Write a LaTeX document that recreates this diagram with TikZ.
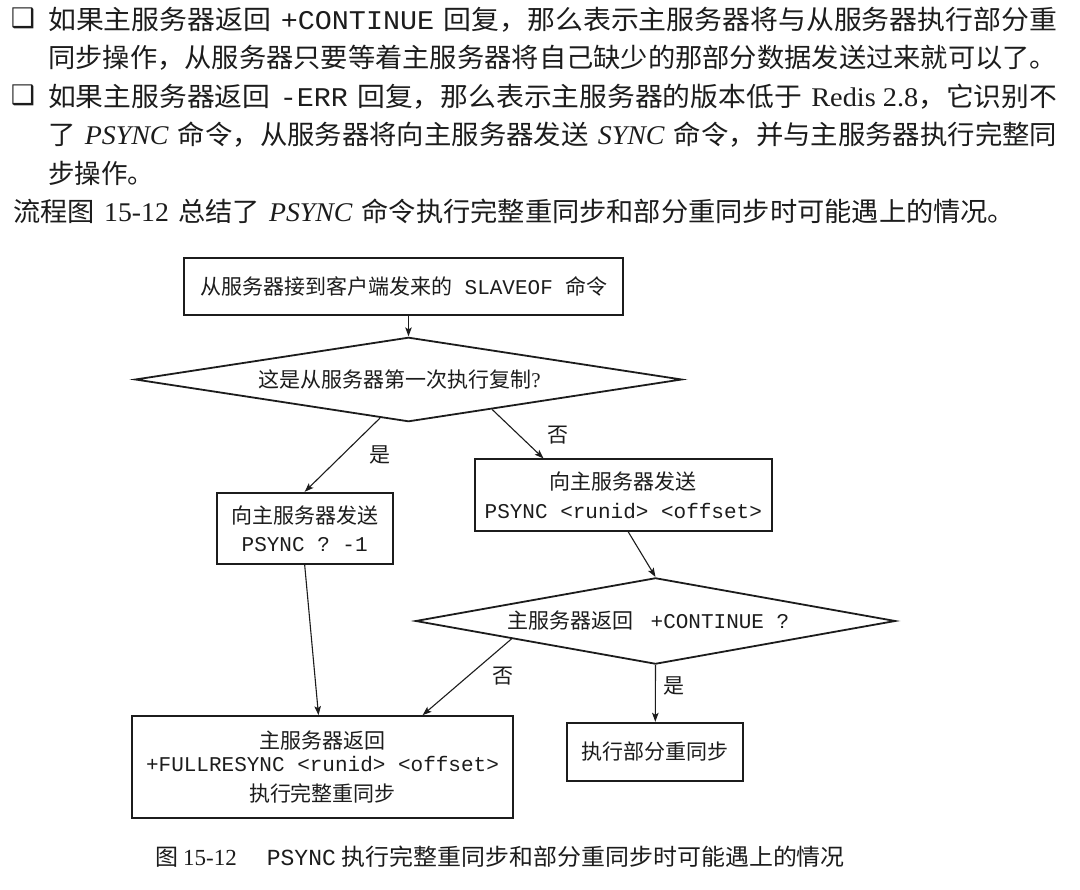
\documentclass[tikz,border=0pt]{standalone}
\usepackage{graphicx}
\usepackage{fontspec}
\setmainfont{Liberation Serif}
\setmonofont{Liberation Mono}
\newfontfamily\cjk{Noto Sans CJK SC}
\newfontfamily\dejavu{DejaVu Sans}
\usetikzlibrary{shapes.geometric,arrows.meta,calc}
\definecolor{ink}{RGB}{28,28,28}
\newcommand\fitto[2]{\resizebox{#1}{\height}{#2}}
\newcommand\bc[1]{{\fontsize{26.5}{30}\selectfont\cjk #1}}
\newcommand\bt[1]{{\fontsize{27}{30}\selectfont\ttfamily #1}}
\newcommand\gp{\hspace{9pt}}
\newcommand\chartfont{\fontsize{21}{26}\selectfont\cjk}
\begin{document}
\begin{tikzpicture}[x=1pt,y=-1pt,color=ink,
  bodyline/.style={anchor=base west,inner sep=0pt,font=\fontsize{27}{30}\selectfont},
  bullet/.style={inner sep=0pt,font=\fontsize{27}{30}\selectfont\dejavu},
  box/.style={draw,line width=1.8pt,inner sep=0pt,align=center,font=\chartfont},
  dia/.style={draw,diamond,aspect=6,line width=1.8pt,inner sep=0pt,font=\chartfont},
  arr/.style={line width=1.1pt,-{Stealth[length=9pt,width=6.5pt,inset=2pt]}},
  lbl/.style={inner sep=0pt,font=\chartfont}]
\fill[white] (0,0) rectangle (1080,890);
\useasboundingbox (0,0) rectangle (1080,890);

% ---- body text ----
\node[bullet] (bu1) at (23,18.5) {❑};
\node[bodyline] (l1) at (48,29.5) {\fitto{1009pt}{\bc{如果主服务器返回}\gp\bt{+CONTINUE}\gp\bc{回复，那么表示主服务器将与从服务器执行部分重}}};
\node[bodyline] (l2) at (48,68) {\fitto{1009pt}{\bc{同步操作，从服务器只要等着主服务器将自己缺少的那部分数据发送过来就可以了。}}};
\node[bullet] (bu2) at (23,95.5) {❑};
\node[bodyline] (l3) at (48,106.5) {\fitto{1009pt}{\bc{如果主服务器返回}\gp\bt{-ERR}\gp\bc{回复，那么表示主服务器的版本低于}\gp Redis 2.8\bc{，它识别不}}};
\node[bodyline] (l4) at (48,145) {\fitto{1009pt}{\bc{了}\gp{\itshape PSYNC}\gp\bc{命令，从服务器将向主服务器发送}\gp{\itshape SYNC}\gp\bc{命令，并与主服务器执行完整同}}};
\node[bodyline] (l5) at (48,183.5) {\bc{步操作。}};
\node[bodyline] (l6) at (13,222) {\fitto{1002pt}{\bc{流程图}\gp 15-12\gp\bc{总结了}\gp{\itshape PSYNC}\gp\bc{命令执行完整重同步和部分重同步时可能遇上的情况。}}};

% ---- flowchart ----
\node[box,minimum width=439pt,minimum height=56.7pt] (n1) at (403.8,286.7)
  {从服务器接到客户端发来的\hspace{12.6pt}{\ttfamily SLAVEOF}\hspace{12.6pt}命令};
\node[dia,minimum width=546.7pt,minimum height=84.4pt] (d1) at (408.5,379.5)
  {这是从服务器第一次执行复制{\rmfamily ?}\kern18pt};
\node[box,minimum width=176pt,minimum height=71.6pt] (b1) at (304.7,528.5)
  {向主服务器发送\\[2pt]{\ttfamily PSYNC ? -1}};
\node[box,minimum width=296.7pt,minimum height=71.7pt] (b2) at (623.3,495.2)
  {向主服务器发送\\[2.5pt]{\ttfamily PSYNC <runid> <offset>}};
\node[dia,minimum width=480pt,minimum height=86.3pt] (d2) at (655.5,621)
  {主服务器返回\hspace{17pt}{\ttfamily +CONTINUE ?}\kern14pt};
\node[box,minimum width=381.6pt,minimum height=102.3pt] (b3) at (322.5,767.2)
  {主服务器返回\\[-3.5pt]{\ttfamily +FULLRESYNC <runid> <offset>}\\[4.5pt]执行完整重同步};
\node[box,minimum width=176pt,minimum height=58pt] (b4) at (655.3,751.7)
  {执行部分重同步};

\draw[arr] (n1.south -| d1.north) -- (d1.north);
\draw[arr] ($(d1.west)!0.896!(d1.south)$) -- (b1.north);
\draw[arr] ($(d1.south)!0.305!(d1.east)$) -- ($(b2.north west)!0.2326!(b2.north east)$);
\draw[arr] ($(b2.south)+(5,0)$) -- (d2.north);
\draw[arr] (b1.south) -- ($(b3.north)+(-4,0)$);
\draw[arr] ($(d2.west)!0.403!(d2.south)$) -- ($(b3.north east)+(-91.6,0)$);
\draw[arr] (d2.south) -- (b4.north);

\node[lbl] (ly1) at (380,455) {是};
\node[lbl] (ln1) at (558,435) {否};
\node[lbl] (ln2) at (503,676) {否};
\node[lbl] (ly2) at (674,686) {是};

% ---- caption ----
\node[anchor=base west,inner sep=0pt,font=\fontsize{23}{26}\selectfont] (cap) at (155,865.5)
  {{\cjk 图}\hspace{5pt}15-12\hspace{30pt}{\ttfamily PSYNC}\hspace{6pt}\fitto{503pt}{\cjk 执行完整重同步和部分重同步时可能遇上的情况}};
\end{tikzpicture}
\end{document}
